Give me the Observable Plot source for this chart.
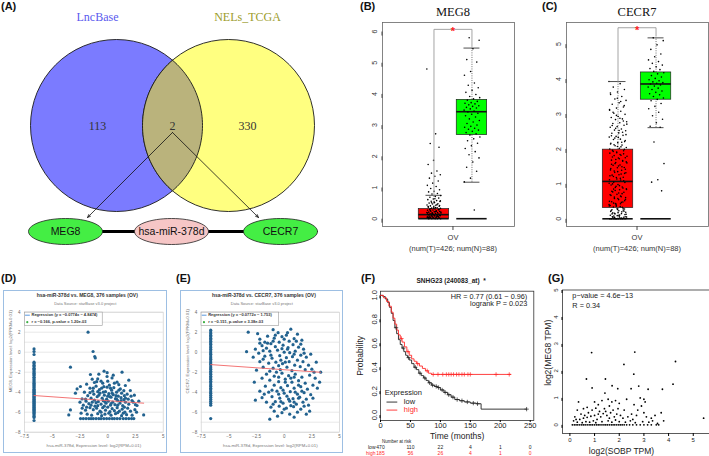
<!DOCTYPE html>
<html><head><meta charset="utf-8">
<script src="https://cdn.jsdelivr.net/npm/d3@7"></script>
<script src="https://cdn.jsdelivr.net/npm/@observablehq/plot@0.6"></script>
<style>
html,body{margin:0;padding:0;background:#fff;}
#root{position:relative;width:709px;height:456px;overflow:hidden;background:#fff;font-family:"Liberation Sans",Arial,sans-serif;}
.lab{position:absolute;font:bold 11px "Liberation Sans",Arial,sans-serif;color:#111;line-height:11px;}
.box{position:absolute;box-sizing:border-box;border:1px solid #9dbfe3;background:#fff;}
</style></head><body><div id="root"></div>
<script>
// ---------------- DATA ----------------
// (A) Venn + network
const vennSets = ["LncBase", "NELs_TCGA"];
const vennCounts = [113, 2, 330];           // LncBase only, both, NELs_TCGA only
const networkNodes = ["MEG8", "hsa-miR-378d", "CECR7"];

// (B) MEG8 expression, GEPIA box plot (Tumor, Normal)
const boxGroups = ["Tumor", "Normal"];
const megQ1 = [0, 2.68], megMed = [0.13, 3.43], megQ3 = [0.31, 3.81], megLo = [0, 1.17], megHi = [0.75, 5.47];
const megTumor = [4.8,2.72,2.41,2.29,1.87,1.74,1.53,1.46,1.41,1.36,1.3,1.21,1.14,1.07,1.03,0.97,0.93,0.88,0.86,0.81,0.79,0.74,0.71,0.69,0.66,0.63,0.61,0.58,0.56,0.55,0.52,0.5,0.48,0.47,0.44,0.43,0.41,0.4,0.38,0.37,0.35,0.34,0.33,0.31,0.3,0.29,0.28,0.27,0.25,0.24,0.23,0.22,0.21,0.2,0.19,0.18,0.17,0.16,0.15,0.14,0.13,0.12,0.11,0.1,0.09,0.08,0.07,0.06,0.05,0.04,0.03,0.02,0.01,0,0,0,0,0,0.01,0.02,0.03,0.05,0.06,0.08,0.1,0.11,0.13,0.15,0.17,0.2,0.23,0.26,0.29,0.34,0.39,0.45,0.51,0.57,0.64,0.02,0.07,0.12,0.18,0.24,0.32,0.42,0.53,0.04,0.09,0.16,0.21,0.36];
const megNormal = [5.8,5.72,5.45,5.1,5.02,4.72,4.6,4.35,4.28,4.2,4.12,4.05,3.98,3.92,3.88,3.84,3.8,3.76,3.72,3.7,3.68,3.65,3.62,3.6,3.57,3.55,3.52,3.48,3.45,3.42,3.38,3.35,3.3,3.26,3.2,3.15,3.1,3.05,3.0,2.96,2.93,2.9,2.87,2.84,2.8,2.76,2.72,2.68,2.62,2.56,2.5,2.42,2.34,2.25,2.15,2.05,1.95,1.82,1.65,1.52,1.3,1.18,0.28];

// (C) CECR7 expression
const cecrQ1 = [0.31, 3.41], cecrMed = [1.07, 3.86], cecrQ3 = [1.98, 4.19], cecrLo = [0, 2.61], cecrHi = [3.93, 5.18];
const cecrTumor = [3.93,3.87,3.77,3.7,3.63,3.56,3.5,3.43,3.39,3.32,3.28,3.2,3.17,3.11,3.08,3.02,2.99,2.93,2.9,2.86,2.84,2.78,2.75,2.73,2.68,2.64,2.62,2.57,2.54,2.52,2.46,2.45,2.39,2.36,2.34,2.28,2.27,2.21,2.18,2.16,2.11,2.09,2.04,2.02,1.96,1.95,1.89,1.88,1.82,1.81,1.75,1.74,1.68,1.67,1.61,1.6,1.54,1.53,1.47,1.46,1.4,1.39,1.33,1.32,1.26,1.25,1.19,1.18,1.12,1.11,1.05,1.04,0.98,0.97,0.91,0.9,0.84,0.83,0.77,0.76,0.7,0.69,0.63,0.62,0.56,0.55,0.49,0.48,0.42,0.41,0.35,0.34,0.28,0.27,0.21,0.2,0.14,0.13,0.07,0.06,0.02,0,0,0,0,0,0,0,0,0,0.01,0.03,0.04,0.05,0.09,0.1,0.15,0.16,0.19,0.23,0.26,0.3,0.36,0.37,0.43,0.45,0.52,0.58,0.67,0.72,0.81,0.86,0.95,1.0,1.09,1.14,1.23,1.28,1.37,1.42,1.51,1.56,1.65,1.7,1.79,1.84,1.93,1.99,2.07,2.14,2.19,2.31,2.41,2.53,2.67,2.8,2.96,3.13,3.36,0.08,0.12,0.18,0.24,0.33,0.44,
  0.05,0.11,0.17,0.22,0.29,0.38,0.47,0.58,0.61,0.74,0.79,0.88,0.93,1.02,1.16,1.21,1.3,1.35,1.44,1.49,1.58,1.63,1.72,1.77,1.86,1.91,2.0,2.06,2.12,2.24,2.33,2.38,2.48,2.59,2.71,2.88,3.05,3.24,3.45,3.6,0.02,0.04,0.06,0.1,0.14,0.25,0.39,0.5,0.65,0.85];
const cecrNormal = [5.18,5.1,4.98,4.85,4.72,4.64,4.55,4.5,4.45,4.4,4.35,4.3,4.27,4.22,4.18,4.15,4.1,4.06,4.02,3.98,3.95,3.92,3.9,3.88,3.86,3.83,3.8,3.77,3.74,3.7,3.66,3.62,3.58,3.55,3.5,3.46,3.42,3.38,3.3,3.22,3.15,3.05,2.95,2.85,2.75,2.65,2.62,2.2,1.58,1.12,1.05,0.8];

// (D) starBase: hsa-miR-378d vs MEG8   [miR, lnc]
const dStackY = [0.33,0.07,-0.23,-1.0,-1.12,-1.3,-1.42,-1.6,-1.7,-1.86,-1.97,-2.1,-2.22,-2.33,-2.5,-2.58,-2.74,-2.86,-2.98,-3.1,-3.22,-3.33,-3.46,-3.55,-3.7,-3.8,-3.92,-4.0,-4.12,-4.21,-4.33,-4.42,-4.5,-4.63,-4.71,-4.82,-4.9,-5.02,-5.1,-5.22,-5.3,-5.43,-5.5,-5.62,-5.7,-5.81,-5.92,-6.02,-6.13,-6.25,-6.4,-6.52,-6.83];
const dCloud = [[-1.77,2.0],[-1.32,0.07],[-1.17,-0.43],[-1.12,-0.58],[-3.36,-1.5],[1.29,-2.0],[-0.33,-1.9],[-1.56,-2.23],[-0.9,-2.67],[-0.06,-2.43],[0.39,-2.57],[0.84,-3.0],[-0.6,-2.9],[-1.2,-3.03],[-2.46,-3.43],[-2.76,-3.67],[1.59,-3.33],[2.04,-3.83],[-2.31,-4.67],[-2.91,-4.1],[-3.36,-5.77],[-3.51,-6.27],[3.24,-6.27],[2.64,-5.33],[2.19,-4.83],[1.14,-3.67],[-0.06,-3.5],[-1.9,-3.2],[-1.6,-3.6],[-1.35,-3.9],[-1.05,-3.4],[-0.75,-3.75],[-0.45,-3.1],[-0.2,-3.95],[0.15,-3.3],[0.55,-3.55],[0.8,-4.0],[1.0,-3.25],[1.45,-3.85],[1.75,-4.2],[2.4,-4.3],[-2.1,-4.0],[-1.8,-4.35],[-1.5,-4.6],[-1.25,-4.2],[-0.95,-4.45],[-0.7,-4.1],[-0.5,-4.6],[-0.3,-4.3],[-0.1,-4.7],[0.1,-4.15],[0.3,-4.5],[0.5,-4.25],[0.7,-4.65],[0.95,-4.4],[1.2,-4.55],[1.5,-4.35],[1.85,-4.7],[2.1,-4.4],[-2.5,-5.0],[-2.2,-5.3],[-1.95,-4.9],[-1.7,-5.15],[-1.4,-5.0],[-1.15,-5.4],[-0.85,-4.95],[-0.6,-5.2],[-0.4,-4.85],[-0.15,-5.1],[0.05,-4.9],[0.25,-5.3],[0.45,-5.0],[0.65,-5.25],[0.9,-4.85],[1.1,-5.1],[1.35,-5.35],[1.6,-5.0],[1.9,-5.2],[2.3,-5.0],[2.8,-4.9],[-2.3,-5.6],[-2.0,-5.8],[-1.6,-5.55],[-1.3,-5.75],[-1.0,-5.6],[-0.7,-5.9],[-0.45,-5.55],[-0.2,-5.8],[0.0,-5.5],[0.2,-5.95],[0.4,-5.65],[0.6,-5.85],[0.85,-5.55],[1.05,-5.9],[1.3,-5.7],[1.55,-6.0],[1.8,-5.6],[2.05,-5.9],[2.45,-5.75],[-1.85,-6.2],[-1.45,-6.3],[-0.9,-6.15],[-0.55,-6.35],[-0.25,-6.2],[0.3,-6.3],[0.7,-6.15],[1.25,-6.35],[1.7,-6.25],[2.2,-6.3],[-0.8,-2.2],[0.0,-2.9],[0.6,-3.1],[-1.4,-2.7],[1.9,-2.8],[-0.35,-3.45],[0.35,-3.8],[-0.9,-3.95],[1.25,-4.1],[-1.6,-4.05],[0.2,-4.45],[-0.25,-4.95],[0.75,-4.35],[-1.05,-5.05],[1.45,-4.75],
  [-1.2,-4.8],[-0.8,-4.3],[-0.4,-4.0],[0.0,-4.4],[0.4,-4.1],[0.8,-4.7],[1.2,-4.85],[1.6,-4.6],[-1.5,-5.3],[-0.9,-5.35],[-0.3,-5.4],[0.3,-5.15],[0.9,-5.3],[1.5,-5.5],[-1.9,-5.5],[-0.6,-6.0],[0.1,-6.1],[0.9,-6.05],[1.4,-6.1],[-2.0,-4.7],[2.5,-5.25],[-1.3,-3.6],[-0.55,-3.6],[0.25,-3.6],[1.0,-3.8],[-2.4,-6.1],[2.6,-6.0],[-0.05,-2.05],[0.5,-2.3],[-1.0,-2.95]];
const dFloorX = [-2.45,-2.2,-1.95,-1.7,-1.5,-1.3,-1.05,-0.8,-0.6,-0.35,-0.1,0.15,0.4,0.6,0.85,1.1,1.4,1.65,1.9,2.15,2.35];
const dFit = {slope: -0.0774, intercept: -4.8474, r: -0.166, p: "1.20e-03"};

// (E) starBase: hsa-miR-378d vs CECR7
const eStackY = [2.2,2.02,1.86,1.7,1.56,1.4,1.26,1.1,0.94,0.8,0.62,0.46,0.3,0.12,-0.05,-0.2,-0.38,-0.55,-0.7,-0.88,-1.05,-1.2,-1.38,-1.55,-1.7,-1.9,-2.05,-2.2,-2.4,-2.55,-2.7,-2.9,-3.05,-3.25,-3.4,-3.6,-3.75,-3.95,-4.1,-4.3,-4.5,-4.7,-4.9,-5.1,-5.3,-6.64];
const eCloud = [[-3.25,2.0],[-2.4,1.85],[-1.0,2.25],[-0.55,1.95],[0.6,2.3],[0.2,1.7],[-0.2,1.55],[-0.9,1.4],[-1.5,1.6],[-2.2,1.3],[-1.75,1.0],[1.2,1.8],[1.6,1.2],[0.9,1.35],[0.45,1.1],[-0.45,1.0],[-1.2,0.85],[-2.0,0.65],[-2.6,0.3],[-3.4,0.05],[-1.6,0.4],[-0.8,0.55],[-0.1,0.7],[0.35,0.45],[0.8,0.75],[1.3,0.5],[1.75,0.3],[2.4,-0.2],[-2.3,-0.1],[-1.9,0.15],[-1.3,0.1],[-0.6,0.2],[0.0,0.0],[0.5,-0.05],[1.0,0.1],[1.5,-0.3],[2.0,-0.5],[-2.8,-0.5],[-1.75,-0.4],[-1.1,-0.6],[-0.4,-0.35],[0.2,-0.55],[0.75,-0.45],[1.2,-0.8],[1.7,-0.95],[-2.2,-0.95],[-1.4,-1.1],[-0.75,-1.0],[-0.15,-1.15],[0.45,-0.95],[0.95,-1.3],[1.45,-1.45],[2.2,-1.3],[2.9,-1.0],[-1.9,-1.5],[-1.0,-1.6],[-0.35,-1.75],[0.25,-1.5],[0.7,-1.85],[1.9,-1.75],[2.5,-1.7],[3.3,-2.0],[-1.6,-2.2],[-0.9,-2.4],[-0.2,-2.1],[0.4,-2.35],[1.0,-2.2],[1.6,-2.5],[2.3,-2.3],[-1.3,-2.8],[-0.5,-2.95],[0.1,-2.7],[0.7,-3.0],[1.3,-2.85],[1.9,-3.1],[2.6,-3.3],[-1.7,-3.4],[-0.9,-3.3],[-0.3,-3.55],[0.3,-3.35],[0.9,-3.6],[1.5,-3.45],[2.1,-3.7],[3.0,-3.6],[-2.2,-3.9],[-1.4,-4.0],[-0.65,-3.9],[0.0,-4.1],[0.55,-3.95],[1.2,-4.2],[1.8,-4.05],[2.4,-4.25],[-2.0,-4.55],[-1.1,-4.45],[-0.4,-4.6],[0.25,-4.4],[0.8,-4.65],[1.4,-4.5],[2.0,-4.7],[-1.6,-5.0],[-0.8,-4.95],[-0.1,-5.1],[0.5,-4.9],[1.1,-5.2],[1.7,-5.0],[-1.2,-5.5],[-0.45,-5.4],[0.2,-5.6],[0.85,-5.45],[1.5,-5.7],[2.2,-5.3],[-0.9,-5.9],[-0.2,-6.05],[0.5,-6.2],[1.2,-6.0],[2.3,-5.9],[-1.3,-6.7],[-2.7,-3.0],[-2.6,-4.8],[3.2,-3.0],[2.8,-2.6],[-0.7,-2.0],[0.1,-3.0],[0.6,-2.6],[-0.1,-3.8],[1.0,-4.0],[-0.5,-4.2],[0.4,-4.7],[1.6,-3.9],[-1.0,-5.2],[0.9,-5.0],[-0.3,-0.8],[0.3,0.3],[-1.0,1.1],[0.0,1.3],[-0.5,-1.35],
  [-1.5,0.9],[-0.8,1.7],[0.3,1.95],[1.1,1.1],[-1.9,-0.7],[-1.2,-0.3],[0.1,-1.0],[0.9,-0.2],[1.8,-0.1],[-2.5,-1.8],[-1.3,-1.9],[-0.5,-2.5],[0.9,-2.5],[1.3,-3.3],[-1.1,-3.8],[-0.3,-4.95],[0.6,-5.35],[1.3,-4.6],[2.6,-4.6],[-1.8,-4.2],[2.7,-2.0],[-2.0,-2.6],[0.0,-5.7],[1.8,-5.4],[-0.6,-6.4],[0.9,-6.5],[2.0,-6.2],[-2.2,0.9],[1.5,0.8],[-0.2,0.35]];
const eFit = {slope: -0.0772, intercept: -1.753, r: -0.151, p: "3.38e-03"};

// (F) Kaplan-Meier, SNHG23 (240083_at)
const kmLowT = [0,4,8,12,15,18,21,24,27,30,33,36,39,42,45,48,52,56,60,64,68,72,76,80,85,90,95,100,106,112,118,124,132,140,150,160,168,244];
const kmLowS = [1,0.99,0.97,0.94,0.9,0.85,0.79,0.73,0.68,0.63,0.59,0.56,0.53,0.5,0.48,0.46,0.43,0.4,0.38,0.35,0.33,0.31,0.29,0.27,0.25,0.24,0.23,0.21,0.19,0.17,0.15,0.13,0.12,0.11,0.1,0.095,0.05,0.05];
const kmHighT = [0,5,10,14,18,21,24,27,30,33,36,40,44,48,52,56,60,65,70,75,80,85,218];
const kmHighS = [1,0.98,0.95,0.91,0.86,0.81,0.76,0.71,0.67,0.64,0.61,0.57,0.53,0.5,0.47,0.45,0.43,0.41,0.39,0.37,0.35,0.34,0.34];
const censorLow = [26,38,47,58,66,74,82,87,93,97,103,108,114,121,128,136,145,155,162,244];
const censorHigh = [35,46,62,78,88,96,104,110,114,118,122,127,131,136,140,146,150,193,215];
const riskTimes = [0,50,100,150,200,250];
const riskLow = [470,110,22,4,1,0];
const riskHigh = [185,56,26,4,1,0];

// (G) log2(SOBP TPM) vs log2(MEG8 TPM)
const gPoints = [[0.88,2.68],[2.63,2.7],[4.28,2.35],[2.19,2.24],[2.59,1.88],[0.67,1.7],[1.44,1.7],[0.9,1.37],[1.71,1.45],[1.94,1.34],[2.48,1.34],[2.79,1.44],[3.17,1.32],[3.75,1.32],[4.18,1.51],[1.42,1.18],[5.42,0.25],[0.35,0.85],[0.55,0.6],[0.7,0.65],[1.0,0.85],[1.15,0.75],[1.3,0.9],[1.55,0.95],[1.7,0.85],[1.85,0.9],[2.0,0.8],[2.3,0.95],[2.85,1.0],[3.0,0.95],[3.05,0.85],[2.9,0.7],[2.6,0.75],[2.2,0.55],[1.95,0.6],[1.75,0.55],[1.6,0.7],[1.4,0.6],[1.2,0.5],[1.05,0.62],[0.9,0.55],[0.75,0.45],[0.6,0.35],[0.45,0.4],[0.3,0.55],[0.2,0.3],[0.4,0.2],[0.55,0.25],[0.7,0.28],[0.85,0.32],[1.0,0.35],[1.1,0.2],[1.25,0.3],[1.35,0.42],[1.5,0.35],[1.65,0.45],[1.8,0.3],[1.9,0.4],[2.05,0.35],[2.15,0.25],[2.35,0.3],[2.5,0.4],[2.7,0.35],[3.0,0.45],[3.1,0.3],[3.3,0.25],[3.45,0.35],[3.7,0.45],[3.8,0.15],[2.75,0.55],[2.45,0.15],[1.55,0.15],[1.45,0.5],[1.15,0.4],[0.95,0.15],[0.65,0.12],[0.3,0.1],[0.15,0.15],[0.5,0.08],[0.8,0.1],[1.3,0.12],[1.7,0.1],[1.85,0.18],[2.0,0.12],[2.25,0.1],[2.65,0.08],[2.95,0.12],[3.2,0.1],[3.55,0.05],[3.35,0.15],[0.25,0.2],[1.05,0.08],[1.6,0.25],[2.55,0.2]];
const gZeroX = [0.1,0.18,0.25,0.32,0.4,0.48,0.55,0.62,0.7,0.78,0.85,0.92,1.0,1.08,1.15,1.22,1.3,1.38,1.45,1.52,1.6,1.68,1.75,1.82,1.9,1.98,2.05,2.12,2.2,2.3,2.42,2.55,2.7,2.85,3.0,3.15,3.3,3.5,3.6];
const gStats = ["p\u2212value = 4.6e\u221213", "R = 0.34"];

// ---------------- HELPERS ----------------
const root = document.getElementById("root");
const SANS = "Liberation Sans, Arial, sans-serif";
const SERIF = "Liberation Serif, DejaVu Serif, serif";
function put(node, left, top) {
  const d = document.createElement("div");
  d.style.cssText = `position:absolute;left:${left}px;top:${top}px;`;
  d.appendChild(node); root.appendChild(d); return d;
}
function label(text, left, top) {
  const e = document.createElement("div"); e.className = "lab"; e.textContent = text;
  e.style.left = left + "px"; e.style.top = top + "px"; root.appendChild(e);
}
const jit = (i) => ((i * 0.6180339887) % 1) - 0.5;   // horizontal spread of jittered points
const baseStyle = {fontFamily: SANS, background: "transparent", overflow: "visible"};
const num = d => (d < 0 ? "\u2212" : "") + Math.abs(d);

// ---------------- (A) VENN + NETWORK ----------------
{
  const V = {cx: [116, 228], cy: 125, r: 86, titleY: 17, countY: 126, countDX: 19};
  const N = {x: [65, 171, 280], y: 231, rx: 37, ry: 13, arrowFrom: [172, 132], arrowTo: [[87, 217], [258, 217]]};
  const vennColors = ["#7b7bff", "#ffff80"];
  const titleColors = ["#5a5aee", "#9c9c2c"];
  const circles = vennSets.map((name, i) => ({name, cx: V.cx[i], cy: V.cy, fill: vennColors[i], tc: titleColors[i],
    tx: V.cx[i] + (i === 0 ? -V.countDX : V.countDX)}));
  const half = (V.cx[1] - V.cx[0]) / 2, th = Math.acos(half / V.r);
  const lens = [];
  for (let k = 0; k <= 48; k++) { const a = -th + 2 * th * k / 48; lens.push({x: V.cx[0] + V.r * Math.cos(a), y: V.cy + V.r * Math.sin(a)}); }
  for (let k = 0; k <= 48; k++) { const a = Math.PI - th + 2 * th * k / 48; lens.push({x: V.cx[1] + V.r * Math.cos(a), y: V.cy + V.r * Math.sin(a)}); }
  lens.push(lens[0]);
  const counts = vennCounts.map((c, i) => ({c, x: i === 0 ? V.cx[0] - V.countDX : i === 2 ? V.cx[1] + V.countDX : (V.cx[0] + V.cx[1]) / 2}));
  const nodeFill = ["#44ee44", "#f6c6c6", "#44ee44"];
  const ell = (i) => d3.range(0, 61).map(k => ({x: N.x[i] + N.rx * Math.cos(k / 60 * 2 * Math.PI), y: N.y + N.ry * Math.sin(k / 60 * 2 * Math.PI)}));
  const arrows = N.arrowTo.map(([x2, y2]) => ({x1: N.arrowFrom[0], y1: N.arrowFrom[1], x2, y2}));
  const svg = Plot.plot({
    width: 360, height: 260, marginTop: 0, marginRight: 0, marginBottom: 0, marginLeft: 0,
    x: {domain: [0, 360], range: [0, 360], axis: null},
    y: {domain: [0, 260], range: [0, 260], axis: null},
    color: {type: "identity"},
    style: baseStyle,
    marks: [
      Plot.dot(circles, {x: "cx", y: "cy", r: V.r, fill: "fill", stroke: "#1a1a1a", strokeWidth: 0.9}),
      Plot.line(lens, {x: "x", y: "y", fill: "#bab37c", stroke: "#1a1a1a", strokeWidth: 0.9}),
      Plot.text(circles, {x: "tx", y: V.titleY, text: "name", fill: "tc", fontFamily: SERIF, fontSize: 12}),
      Plot.text(counts, {x: "x", y: V.countY, text: "c", fill: "#333", fontFamily: SERIF, fontSize: 12}),
      Plot.arrow(arrows, {x1: "x1", y1: "y1", x2: "x2", y2: "y2", stroke: "#111", strokeWidth: 0.8, headLength: 6, headAngle: 45}),
      Plot.link([{x1: N.x[0], x2: N.x[2], y: N.y}], {x1: "x1", x2: "x2", y1: "y", y2: "y", stroke: "#000", strokeWidth: 3}),
      ...networkNodes.map((n, i) => Plot.line(ell(i), {x: "x", y: "y", fill: nodeFill[i], stroke: "#222", strokeWidth: 0.8})),
      Plot.text(networkNodes, {x: (d, i) => N.x[i], y: N.y, text: d => d, fontSize: 10.5, fill: "#111"})
    ]
  });
  put(svg, 0, 0);
}

// ---------------- (B),(C) BOX PLOTS ----------------
function boxPanel(o) {
  const pos = [-1, 1], fills = ["#ff0000", "#00ff00"], hw = 0.8, cap = 0.42;
  const boxes = boxGroups.map((g, i) => ({g, p: pos[i], x1: pos[i] - hw, x2: pos[i] + hw, q1: o.q1[i], med: o.med[i], q3: o.q3[i], lo: o.lo[i], hi: o.hi[i], fill: fills[i]}));
  const pts = [...o.tumor.map((v, i) => ({x: pos[0] + jit(i) * o.spread[0], y: v})),
               ...o.normal.map((v, i) => ({x: pos[1] + jit(i + 7) * o.spread[1], y: v}))];
  const bracket = [{x: pos[0], y: o.hi[0]}, {x: pos[0], y: o.bTop}, {x: pos[1], y: o.bTop}, {x: pos[1], y: o.hi[1] + 0.05}];
  return Plot.plot({
    width: o.width, height: 260, marginLeft: o.mL, marginRight: o.mR, marginTop: 22, marginBottom: 34,
    x: {domain: [-3.71, o.xMax]}, y: {domain: o.yDomain},
    color: {type: "identity"},
    style: baseStyle,
    marks: [
      Plot.frame({stroke: "#666", strokeWidth: 0.8}),
      Plot.axisY({ticks: o.yTicks, tickFormat: d => String(d), tickSize: 4, tickPadding: 4, rotate: -90, textAnchor: "middle", fontSize: 7, label: null, stroke: "#444", fill: "#333"}),
      Plot.axisX({ticks: [0], tickFormat: () => "OV", tickSize: 4, tickPadding: 4, fontSize: 7.5, label: null, stroke: "#444", fill: "#333"}),
      Plot.text(["(num(T)=426; num(N)=88)"], {x: 0, frameAnchor: "bottom", lineAnchor: "middle", dy: 22, fontSize: 7.5, fill: "#333"}),
      Plot.text([o.title], {x: 0, frameAnchor: "top", lineAnchor: "middle", dy: -11, fontFamily: SERIF, fontSize: 12.5, fill: "#111"}),
      Plot.ruleX(boxes, {x: "p", y1: "q3", y2: "hi", stroke: "#333", strokeWidth: 0.7, strokeDasharray: "1,1.3"}),
      Plot.ruleX(boxes.filter(b => b.lo < b.q1), {x: "p", y1: "lo", y2: "q1", stroke: "#333", strokeWidth: 0.7, strokeDasharray: "1,1.3"}),
      Plot.ruleY(boxes, {y: "hi", x1: d => d.p - cap, x2: d => d.p + cap, stroke: "#222", strokeWidth: 0.8}),
      Plot.ruleY(boxes.filter(b => b.lo < b.q1), {y: "lo", x1: d => d.p - cap, x2: d => d.p + cap, stroke: "#222", strokeWidth: 0.8}),
      Plot.rect(boxes, {x1: "x1", x2: "x2", y1: "q1", y2: "q3", fill: "fill", stroke: "#222", strokeWidth: 0.7}),
      Plot.ruleY(boxes, {y: "med", x1: "x1", x2: "x2", stroke: "#111", strokeWidth: 1.6}),
      Plot.ruleY(boxes, {y: 0, x1: "x1", x2: "x2", stroke: "#111", strokeWidth: 1.6}),
      Plot.dot(pts, {x: "x", y: "y", r: 0.8, fill: "#000"}),
      Plot.line(bracket, {x: "x", y: "y", stroke: "#9a9a9a", strokeWidth: 0.9}),
      Plot.text(["*"], {x: 0, y: o.bTop, dy: 2.5, fill: "#ff2222", fontSize: 11, fontWeight: "bold"})
    ]
  });
}
put(boxPanel({title: "MEG8", tumor: megTumor, normal: megNormal, q1: megQ1, med: megMed, q3: megQ3, lo: megLo, hi: megHi,
  width: 180, mL: 22, mR: 26, xMax: 3.24, yDomain: [-0.25, 6.29], yTicks: [0, 1, 2, 3, 4, 5, 6], bTop: 6.07, spread: [0.75, 0.85]}), 360, 0);
put(boxPanel({title: "CECR7", tumor: cecrTumor, normal: cecrNormal, q1: cecrQ1, med: cecrMed, q3: cecrQ3, lo: cecrLo, hi: cecrHi,
  width: 179, mL: 36, mR: 1, xMax: 3.76, yDomain: [-0.22, 5.62], yTicks: [0, 1, 2, 3, 4, 5], bTop: 5.47, spread: [0.95, 0.85]}), 530, 0);

// ---------------- (D),(E) starBase scatter ----------------
function starPanel(o) {
  const floorV = -6.64;
  const pts = [...o.stack.map(y => ({x: floorV, y})), ...o.cloud.map(([x, y]) => ({x, y})), ...(o.floorX || []).map(x => ({x, y: floorV}))];
  const xMax = Math.max(...o.cloud.map(d => d[0]));
  const fit = [floorV, xMax].map(x => ({x, y: o.fit.slope * x + o.fit.intercept}));
  const l1 = `Regression (y = ${num(o.fit.slope)}x ${o.fit.intercept < 0 ? "\u2212" : "+"} ${Math.abs(o.fit.intercept)})`;
  const l2 = `r = ${num(o.fit.r)}, p-value = ${o.fit.p}`;
  return Plot.plot({
    width: o.width, height: 163, marginLeft: o.mL, marginRight: o.mR, marginTop: 21.7, marginBottom: 21.3,
    x: {domain: [-7.5, 5]}, y: {domain: [-8, 4]},
    style: baseStyle,
    marks: [
      Plot.gridY({ticks: d3.range(-8, 5, 1), stroke: "#d9d9d9", strokeOpacity: 1, strokeWidth: 0.6}),
      Plot.frame({stroke: "#cfcfcf", strokeWidth: 0.7}),
      Plot.axisX({ticks: [-7.5, -5, -2.5, 0, 2.5, 5], tickFormat: num, tickSize: 0, tickPadding: 3, fontSize: 4.5, fill: "#666", label: null}),
      Plot.axisY({ticks: [-8, -6, -4, -2, 0, 2, 4], tickFormat: num, tickSize: 0, tickPadding: 4, fontSize: 4.5, fill: "#666", label: null}),
      Plot.text([o.title], {frameAnchor: "top", lineAnchor: "middle", dx: o.tdx, dy: -16.7, fontSize: 5, fontWeight: "bold", fill: "#333"}),
      Plot.text(["Data Source: starBase v3.0 project"], {frameAnchor: "top", lineAnchor: "middle", dx: o.tdx - 2, dy: -8.4, fontSize: 4, fill: "#777"}),
      Plot.text([o.xlabel], {frameAnchor: "bottom", lineAnchor: "middle", dy: 13.6, fontSize: 4.3, fill: "#777"}),
      Plot.text([o.ylabel], {frameAnchor: "left", textAnchor: "middle", lineAnchor: "middle", rotate: -90, dx: -14, dy: -21, fontSize: 4.3, fill: "#777"}),
      Plot.dot(pts, {x: "x", y: "y", r: 1.6, fill: "#22628f"}),
      Plot.line(fit, {x: "x", y: "y", stroke: "#f26464", strokeWidth: 0.9}),
      Plot.rect([0], {x1: -7.47, x2: -0.45, y1: 2.62, y2: 3.96, fill: "#fff", stroke: "#9a9a9a", strokeWidth: 0.6}),
      Plot.link([0], {x1: -7.45, x2: -7.02, y1: 3.7, y2: 3.7, stroke: "#2f7ed8", strokeWidth: 0.8}),
      Plot.dot([0], {x: -7.25, y: 3.0, r: 1.1, fill: "#3cb043"}),
      Plot.text([l1], {x: -6.87, y: 3.7, textAnchor: "start", lineAnchor: "middle", fontSize: 4, fontWeight: "bold", fill: "#333"}),
      Plot.text([l2], {x: -6.87, y: 3.0, textAnchor: "start", lineAnchor: "middle", fontSize: 4, fontWeight: "bold", fill: "#333"})
    ]
  });
}
{
  const d = document.createElement("div"); d.className = "box";
  d.style.cssText += "left:3px;top:290px;width:164px;height:163px;"; root.appendChild(d);
  const e = document.createElement("div"); e.className = "box";
  e.style.cssText += "left:180px;top:290px;width:163px;height:163px;"; root.appendChild(e);
}
put(starPanel({width: 164, mL: 21, mR: 4.3, tdx: -6.6, title: "hsa-miR-378d vs. MEG8, 376 samples (OV)",
  xlabel: "hsa-miR-378d, Expression level: log2(RPM+0.01)", ylabel: "MEG8, Expression level: log2(FPKM+0.01)",
  stack: dStackY, cloud: dCloud, floorX: dFloorX, fit: dFit}), 3, 290);
put(starPanel({width: 163, mL: 20.7, mR: 4, tdx: -6.5, title: "hsa-miR-378d vs. CECR7, 376 samples (OV)",
  xlabel: "hsa-miR-378d, Expression level: log2(RPM+0.01)", ylabel: "CECR7, Expression level: log2(FPKM+0.01)",
  stack: eStackY, cloud: eCloud, floorX: [], fit: eFit}), 180, 290);

// ---------------- (F) KAPLAN-MEIER ----------------
{
  const stepAt = (T, S, t) => { let s = S[0]; for (let i = 0; i < T.length; i++) if (T[i] <= t) s = S[i]; return s; };
  const low = kmLowT.map((t, i) => ({t, s: kmLowS[i]}));
  const high = kmHighT.map((t, i) => ({t, s: kmHighS[i]}));
  const cens = [...censorLow.map(t => ({t, s: stepAt(kmLowT, kmLowS, t), c: "#222"})), ...censorHigh.map(t => ({t, s: stepAt(kmHighT, kmHighS, t), c: "#ff2a2a"}))];
  const RED = "#ff2a2a", BLK = "#222";
  const legendY = [0.109, 0.042];   // legend rows, in survival units
  const svg = Plot.plot({
    width: 190, height: 186, marginLeft: 30, marginRight: 6.7, marginTop: 20.7, marginBottom: 36,
    x: {domain: [0, 256]}, y: {domain: [-0.045, 1.035]},
    color: {type: "identity"},
    style: baseStyle,
    marks: [
      Plot.frame({stroke: "#333", strokeWidth: 0.8}),
      Plot.axisY({ticks: [0, 0.2, 0.4, 0.6, 0.8, 1], tickFormat: ".1f", tickSize: 3, tickPadding: 3, rotate: -90, textAnchor: "middle", fontSize: 7.5, label: null, fill: BLK}),
      Plot.axisX({ticks: riskTimes, tickFormat: d => String(d), tickSize: 2, tickPadding: 0.5, fontSize: 7.5, label: null, fill: BLK}),
      Plot.text(["Time (months)"], {frameAnchor: "bottom", lineAnchor: "middle", dy: 15.5, fontSize: 8.5, fill: BLK}),
      Plot.text(["Probability"], {frameAnchor: "left", textAnchor: "middle", lineAnchor: "middle", rotate: -90, dx: -20, fontSize: 8.5, fill: BLK}),
      Plot.text(["SNHG23 (240083_at)  *"], {frameAnchor: "top", lineAnchor: "middle", dx: -6, dy: -10, fontSize: 6.5, fontWeight: "bold", fill: BLK}),
      Plot.text(["HR = 0.77 (0.61 \u2212 0.96)\nlogrank P = 0.023"], {frameAnchor: "top-right", textAnchor: "end", lineAnchor: "top", dx: -6.5, dy: 2, fontSize: 7.3, lineHeight: 1.05, fill: BLK}),
      Plot.line(low, {x: "t", y: "s", curve: "step-after", stroke: BLK, strokeWidth: 0.9}),
      Plot.line(high, {x: "t", y: "s", curve: "step-after", stroke: RED, strokeWidth: 0.9}),
      Plot.dot(cens, {x: "t", y: "s", symbol: "plus", r: 1.5, stroke: "c", strokeWidth: 0.7}),
      Plot.text(["Expression"], {frameAnchor: "bottom-left", textAnchor: "start", lineAnchor: "middle", dx: 4.3, dy: -28.3, fontSize: 7.5, fill: BLK}),
      Plot.text(["low"], {x: 39, y: legendY[0], textAnchor: "start", lineAnchor: "middle", fontSize: 7.5, fill: BLK}),
      Plot.text(["high"], {x: 39, y: legendY[1], textAnchor: "start", lineAnchor: "middle", fontSize: 7.5, fill: RED}),
      Plot.link([0], {x1: 10, x2: 28, y1: legendY[0], y2: legendY[0], stroke: BLK, strokeWidth: 0.9}),
      Plot.link([0], {x1: 10, x2: 28, y1: legendY[1], y2: legendY[1], stroke: RED, strokeWidth: 0.9}),
      Plot.text(["Number at risk"], {x: 27, frameAnchor: "bottom", lineAnchor: "middle", dy: 21.5, fontSize: 4.5, fill: BLK}),
      Plot.text(riskLow, {x: (d, i) => riskTimes[i], text: d => String(d), frameAnchor: "bottom", lineAnchor: "middle", dy: 26.5, fill: BLK, fontSize: 5}),
      Plot.text(riskHigh, {x: (d, i) => riskTimes[i], text: d => String(d), frameAnchor: "bottom", lineAnchor: "middle", dy: 32.5, fill: RED, fontSize: 5}),
      Plot.text(["low"], {x: 0, frameAnchor: "bottom", textAnchor: "end", lineAnchor: "middle", dx: -5, dy: 26.5, fill: BLK, fontSize: 5}),
      Plot.text(["high"], {x: 0, frameAnchor: "bottom", textAnchor: "end", lineAnchor: "middle", dx: -5, dy: 32.5, fill: RED, fontSize: 5})
    ]
  });
  put(svg, 350, 270);
}

// ---------------- (G) SCATTER ----------------
{
  const pts = [...gPoints.map(([x, y]) => ({x, y})), ...gZeroX.map(x => ({x, y: 0}))];
  const svg = Plot.plot({
    width: 172, height: 186, marginLeft: 22, marginRight: 0, marginTop: 19.5, marginBottom: 23,
    x: {domain: [-0.3, 5.78]}, y: {domain: [-0.32, 5]},
    style: {...baseStyle, maxWidth: "none"},
    marks: [
      Plot.frame({stroke: "#333", strokeWidth: 0.8}),
      Plot.axisY({ticks: [0, 1, 2, 3, 4, 5], tickFormat: d => String(d), tickSize: 3, tickPadding: 3, rotate: -90, textAnchor: "middle", fontSize: 6, label: null, fill: "#222"}),
      Plot.axisX({ticks: [0, 1, 2, 3, 4, 5], tickFormat: d => String(d), tickSize: 3, tickPadding: 1, fontSize: 6, label: null, fill: "#222"}),
      Plot.text(["log2(SOBP TPM)"], {frameAnchor: "bottom", lineAnchor: "middle", dx: -16, dy: 17.7, fontSize: 8.5, fill: "#222"}),
      Plot.text(["log2(MEG8 TPM)"], {frameAnchor: "left", textAnchor: "middle", lineAnchor: "middle", rotate: -90, dx: -14, dy: -9, fontSize: 8.5, fill: "#222"}),
      Plot.text([gStats[0]], {x: 0.1, y: 4.78, textAnchor: "start", lineAnchor: "middle", fontSize: 7.3, fill: "#222"}),
      Plot.text([gStats[1]], {x: 0.1, y: 4.42, textAnchor: "start", lineAnchor: "middle", fontSize: 7.3, fill: "#222"}),
      Plot.dot(pts, {x: "x", y: "y", r: 0.9, fill: "#000"})
    ]
  });
  put(svg, 540, 270);
}

// ---------------- PANEL LABELS ----------------
label("(A)", 1, 1); label("(B)", 360, 1); label("(C)", 542, 1);
label("(D)", 1, 273); label("(E)", 176, 273); label("(F)", 361, 273); label("(G)", 548, 273);
</script></body></html>
